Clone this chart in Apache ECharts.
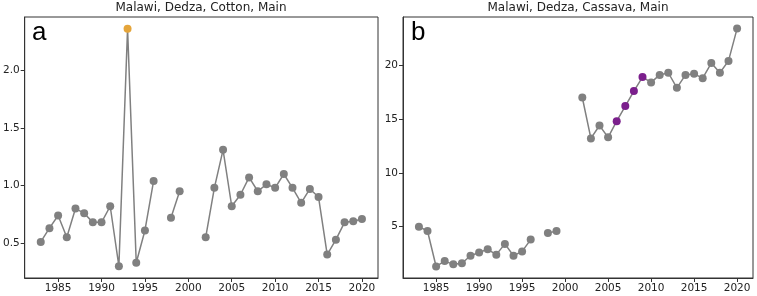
<!DOCTYPE html>
<html>
<head>
<meta charset="utf-8">
<script src="https://cdn.jsdelivr.net/npm/echarts@6/dist/echarts.min.js"></script>
<style>
  html, body { margin: 0; padding: 0; background: #fff; }
  #main { width: 757px; height: 296px; }
</style>
</head>
<body>
<div id="main"></div>
<script>
// years shared by both panels
var years = [1983, 1984, 1985, 1986, 1987, 1988, 1989, 1990, 1991, 1992,
  1993, 1994, 1995, 1996, 1997, 1998, 1999, 2000, 2001, 2002,
  2003, 2004, 2005, 2006, 2007, 2008, 2009, 2010, 2011, 2012,
  2013, 2014, 2015, 2016, 2017, 2018, 2019, 2020];

var cotton = [0.51, 0.63, 0.74, 0.55, 0.80, 0.76, 0.68, 0.68, 0.82, 0.30,
  2.36, 0.33, 0.61, 1.04, null, 0.72, 0.95, null, null, 0.55,
  0.98, 1.31, 0.82, 0.92, 1.07, 0.95, 1.01, 0.98, 1.10, 0.98,
  0.85, 0.97, 0.90, 0.40, 0.53, 0.68, 0.69, 0.71];

var cassava = [5.0, 4.6, 1.3, 1.8, 1.5, 1.6, 2.3, 2.6, 2.9, 2.4,
  3.4, 2.3, 2.7, 3.8, null, 4.4, 4.6, null, null, 17.0,
  13.2, 14.4, 13.3, 14.8, 16.2, 17.6, 18.9, 18.4, 19.1, 19.3,
  17.9, 19.1, 19.2, 18.8, 20.2, 19.3, 20.4, 23.4];

var cottonMarked = [1993];
var cassavaMarked = [2006, 2007, 2008, 2009];

var xTicks = [1985, 1990, 1995, 2000, 2005, 2010, 2015, 2020];
var cottonTicks = [0.5, 1.0, 1.5, 2.0];
var cassavaTicks = [5, 10, 15, 20];

var titles = ['Malawi, Dedza, Cotton, Main', 'Malawi, Dedza, Cassava, Main'];
var panelLetters = ['a', 'b'];

var grey = '#808080';
var font = 'DejaVu Sans';

function points(vals, marked, hiColor) {
  return years.map(function (y, i) {
    var item = { value: [y, vals[i]] };
    if (marked.indexOf(y) >= 0) {
      item.itemStyle = { color: hiColor };
    }
    return item;
  });
}

function xAxis(idx) {
  return {
    type: 'value', gridIndex: idx, min: 1981.15, max: 2021.85,
    axisLine: { show: true, lineStyle: { color: '#333' } },
    axisTick: { show: true, length: 4, customValues: xTicks, lineStyle: { color: '#333' } },
    axisLabel: {
      customValues: xTicks, fontFamily: font, fontSize: 10.5, color: '#222', margin: 5,
      formatter: function (v) { return String(v); }
    },
    splitLine: { show: false }
  };
}

function yAxis(idx, min, max, ticks, digits) {
  return {
    type: 'value', gridIndex: idx, min: min, max: max,
    axisLine: { show: true, lineStyle: { color: '#333' } },
    axisTick: { show: true, length: 4, customValues: ticks, lineStyle: { color: '#333' } },
    axisLabel: {
      customValues: ticks, fontFamily: font, fontSize: 10.5, color: '#222', margin: 5,
      formatter: function (v) { return v.toFixed(digits); }
    },
    splitLine: { show: false }
  };
}

function lineSeries(idx, data) {
  return {
    type: 'line', xAxisIndex: idx, yAxisIndex: idx, data: data,
    symbol: 'circle', symbolSize: 8, showSymbol: true,
    lineStyle: { color: grey, width: 1.5 },
    itemStyle: { color: grey },
    connectNulls: false, animation: false
  };
}

var chart = echarts.init(document.getElementById('main'), null, { renderer: 'canvas' });

var option = {
  backgroundColor: '#fff',
  animation: false,
  title: [
    { text: titles[0], left: 201, top: 2, padding: 0, textAlign: 'center',
      textStyle: { fontFamily: font, fontSize: 12, fontWeight: 'normal', color: '#222' } },
    { text: titles[1], left: 578, top: 2, padding: 0, textAlign: 'center',
      textStyle: { fontFamily: font, fontSize: 12, fontWeight: 'normal', color: '#222' } }
  ],
  grid: [
    { left: 24, right: 379, top: 17, bottom: 18, show: true, borderColor: '#333', borderWidth: 1 },
    { left: 403, right: 4, top: 17, bottom: 18, show: true, borderColor: '#333', borderWidth: 1 }
  ],
  xAxis: [xAxis(0), xAxis(1)],
  yAxis: [
    yAxis(0, 0.197, 2.463, cottonTicks, 1),
    yAxis(1, 0.23, 24.48, cassavaTicks, 0)
  ],
  series: [
    lineSeries(0, points(cotton, cottonMarked, '#e5a53a')),
    lineSeries(1, points(cassava, cassavaMarked, '#7b1f8c'))
  ],
  graphic: [
    { type: 'text', left: 32, top: 20, style: { text: panelLetters[0], font: '26px "Liberation Sans"', fill: '#000' } },
    { type: 'text', left: 411, top: 20, style: { text: panelLetters[1], font: '26px "Liberation Sans"', fill: '#000' } }
  ]
};

chart.setOption(option);
</script>
</body>
</html>
